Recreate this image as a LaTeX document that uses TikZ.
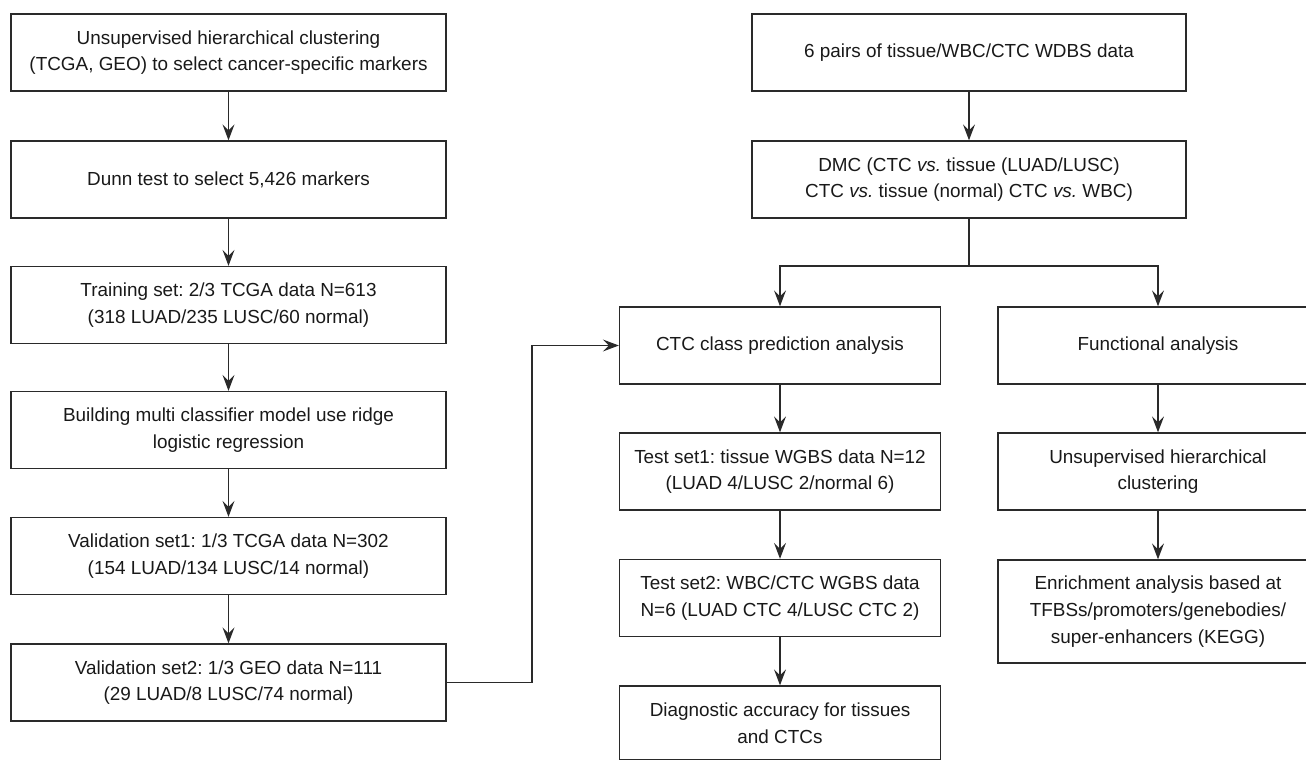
\documentclass[tikz,border=0pt]{standalone}
\usepackage{fontspec}
\setmainfont{Liberation Sans}
\usetikzlibrary{arrows.meta}
\definecolor{ln}{HTML}{2A2A2A}
\frenchspacing
\begin{document}
\begin{tikzpicture}[x=1pt,y=-1pt,
  box/.style={draw=ln,line width=1.3pt,align=center,inner sep=0pt,
    font=\fontsize{18.9}{26.7}\selectfont\frenchspacing,text=black!90},
  lbox/.style={box,minimum width=435pt,minimum height=77pt},
  rbox/.style={box,minimum width=321pt,minimum height=77pt},
  conn/.style={draw=ln,line width=1.3pt,-{Stealth[length=16pt,width=12pt,inset=6pt]}},
  plain/.style={draw=ln,line width=1.3pt}]
\useasboundingbox (0,0) rectangle (1306,760);
\clip (0,0) rectangle (1306,760);
% left column
\node[lbox] (l1) at (228.5,52.5) {Unsupervised hierarchical clustering\\(TCGA, GEO) to select cancer-specific markers};
\node[lbox] (l2) at (228.5,179.5) {Dunn test to select 5,426 markers};
\node[lbox] (l3) at (228.5,305) {Training set: 2/3 TCGA data N=613\\(318 LUAD/235 LUSC/60 normal)};
\node[lbox] (l4) at (228.5,430) {Building multi classifier model use ridge\\logistic regression};
\node[lbox] (l5) at (228.5,556) {Validation set1: 1/3 TCGA data N=302\\(154 LUAD/134 LUSC/14 normal)};
\node[lbox] (l6) at (228.5,682.5) {Validation set2: 1/3 GEO data N=111\\(29 LUAD/8 LUSC/74 normal)};
% right part
\node[box,minimum width=434pt,minimum height=77pt] (r1) at (969,52.5) {6 pairs of tissue/WBC/CTC WDBS data};
\node[box,minimum width=434pt,minimum height=77pt] (r2) at (969,179.5) {DMC (CTC \emph{vs.} tissue (LUAD/LUSC)\\CTC \emph{vs.} tissue (normal) CTC \emph{vs.} WBC)};
\node[rbox] (c1) at (780,345.5) {CTC class prediction analysis};
\node[rbox] (c2) at (780,471.5) {Test set1: tissue WGBS data N=12\\(LUAD 4/LUSC 2/normal 6)};
\node[rbox] (c3) at (780,598) {Test set2: WBC/CTC WGBS data\\N=6 (LUAD CTC 4/LUSC CTC 2)};
\node[rbox,minimum height=74pt] (c4) at (780,723) {Diagnostic accuracy for tissues\\and CTCs};
\node[rbox,minimum width=320pt] (f1) at (1158,345.5) {Functional analysis};
\node[rbox,minimum width=320pt] (f2) at (1158,471.5) {Unsupervised hierarchical\\clustering};
\node[rbox,minimum width=320pt,minimum height=103pt] (f3) at (1158,611.5) {Enrichment analysis based at\\TFBSs/promoters/genebodies/\\super-enhancers (KEGG)};
% connectors
\draw[conn] (l1) -- (l2);
\draw[conn] (l2) -- (l3);
\draw[conn] (l3) -- (l4);
\draw[conn] (l4) -- (l5);
\draw[conn] (l5) -- (l6);
\coordinate (corner) at (532,682.5);
\draw[conn] (l6.east) -- (corner) |- (c1.west);
\draw[conn] (r1) -- (r2);
\coordinate (split) at (969,266);
\draw[plain] (r2.south) -- (split);
\draw[conn] (split) -| (c1.north);
\draw[conn] (split) -| (f1.north);
\draw[conn] (c1) -- (c2);
\draw[conn] (c2) -- (c3);
\draw[conn] (c3) -- (c4);
\draw[conn] (f1) -- (f2);
\draw[conn] (f2) -- (f3);
\end{tikzpicture}
\end{document}
